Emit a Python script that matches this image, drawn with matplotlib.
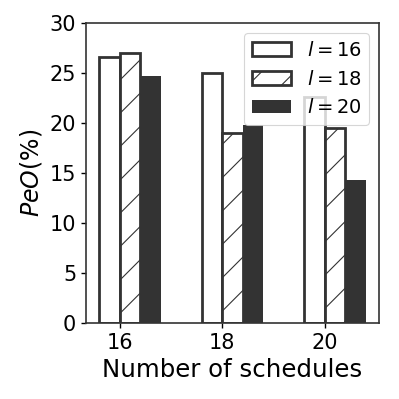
import numpy as np
import matplotlib
matplotlib.use('Agg')
import matplotlib.pyplot as plt

schedules = ['16', '18', '20']
series_labels = ['$l=16$', '$l=18$', '$l=20$']
peo_l16 = [26.6, 25.0, 22.6]
peo_l18 = [27.0, 19.0, 19.5]
peo_l20 = [24.7, 19.8, 14.3]


def main():
    plt.rcParams['hatch.linewidth'] = 0.4
    plt.rcParams['font.size'] = 7.5

    fig = plt.figure(figsize=(1.995, 1.995), dpi=200)
    ax = fig.add_axes([0.2155, 0.191, 0.7345, 0.7506])

    x = np.arange(len(schedules))
    w = 0.2
    edge = '#333333'
    ax.bar(x - w / 2, peo_l16, w, color='white', edgecolor=edge,
           linewidth=1.0, label=series_labels[0])
    ax.bar(x + w / 2, peo_l18, w, color='white', edgecolor=edge,
           linewidth=1.0, hatch='//', label=series_labels[1])
    ax.bar(x + 3 * w / 2, peo_l20, w, color=edge, edgecolor=edge,
           linewidth=0, label=series_labels[2])

    ax.set_xticks(x)
    ax.set_xticklabels(schedules)
    ax.set_ylim(0, 30)
    ax.set_yticks([0, 5, 10, 15, 20, 25, 30])
    ax.tick_params(length=1.75, width=0.5, labelsize=7.5, pad=1.75)
    for s in ax.spines.values():
        s.set_linewidth(0.6)
        s.set_color('#333333')
    ax.set_xlabel('Number of schedules', fontsize=8.8, labelpad=2)
    ax.set_ylabel('$PeO$(%)', fontsize=8.5, labelpad=2)
    leg = ax.legend(loc='upper right', fontsize=7)
    leg.get_frame().set_linewidth(0.4)

    fig.savefig('out.png', dpi=200)


if __name__ == '__main__':
    main()
